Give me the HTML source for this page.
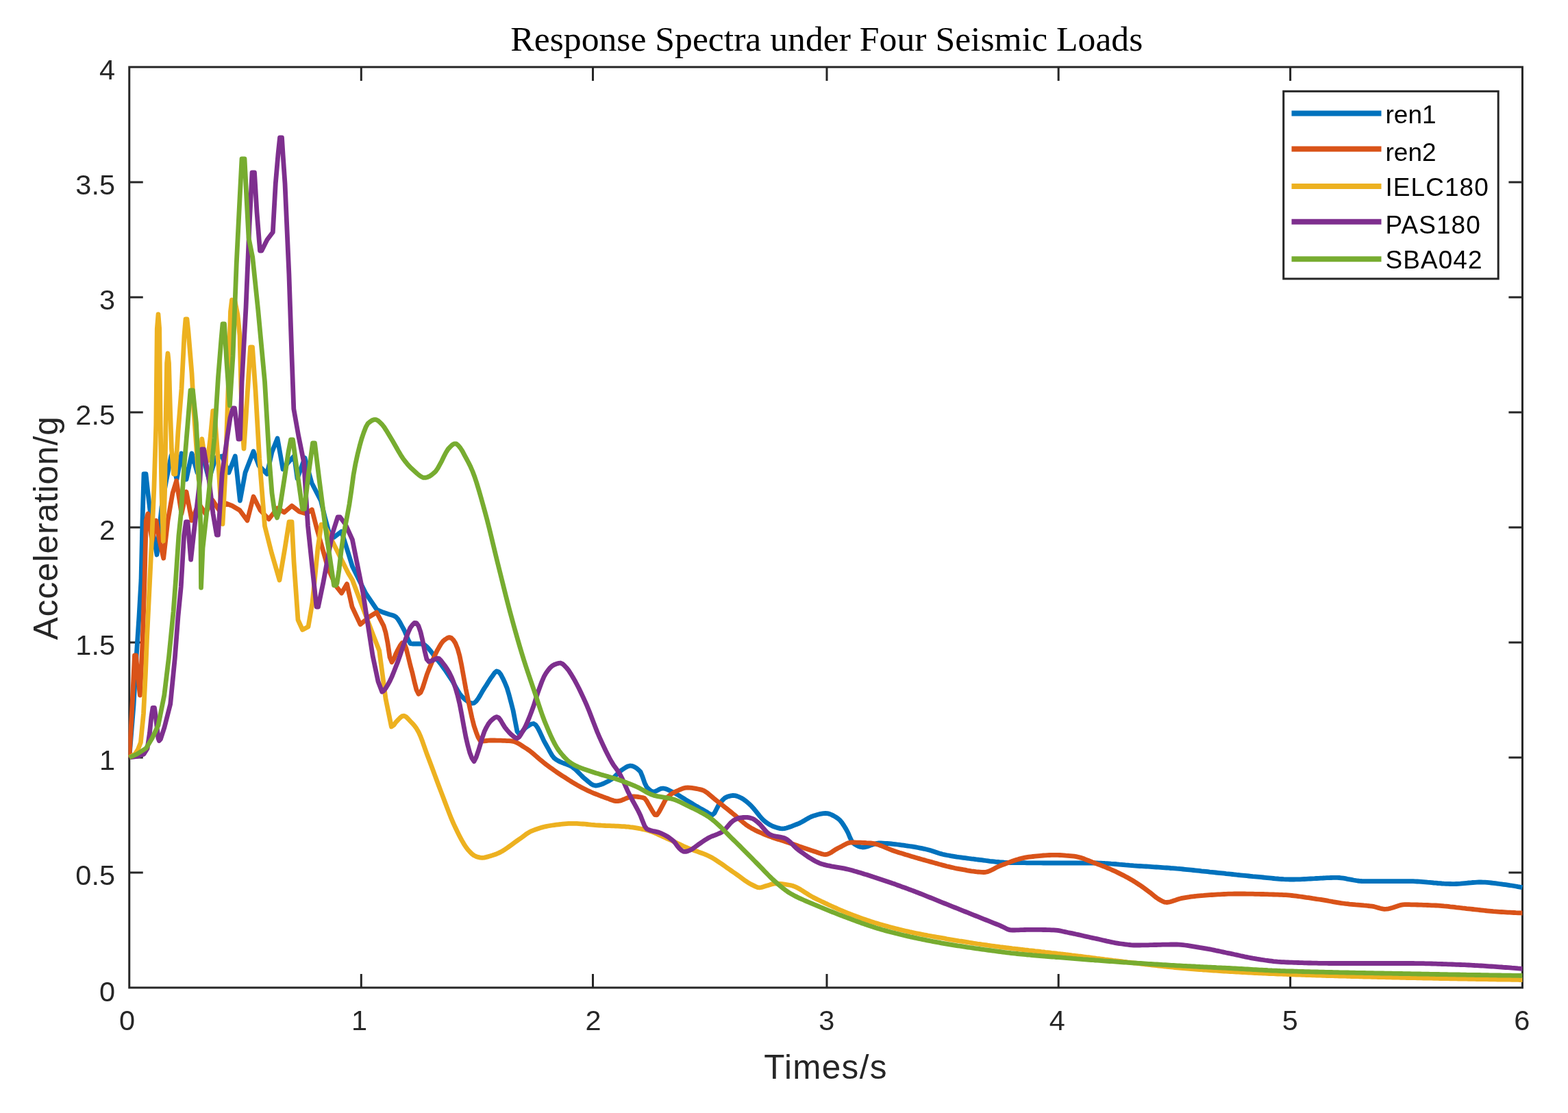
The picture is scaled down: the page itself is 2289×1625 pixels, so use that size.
<!DOCTYPE html>
<html lang="en"><head><meta charset="utf-8"><title>Response Spectra under Four Seismic Loads</title>
<style>html,body{margin:0;padding:0;background:#fff;}body{width:2289px;height:1625px;overflow:hidden;}svg{display:block;}</style>
</head><body>
<svg width="2289" height="1625" viewBox="0 0 2289 1625" role="img" aria-label="Response Spectra under Four Seismic Loads">
<rect width="2289" height="1625" fill="#ffffff"/>
<rect x="188.75" y="97.9" width="2033.7" height="1344.1" fill="none" stroke="#262626" stroke-width="3"/>
<path d="M527.3 1442.0v-20M527.3 97.9v20M865.5 1442.0v-20M865.5 97.9v20M1207.0 1442.0v-20M1207.0 97.9v20M1545.2 1442.0v-20M1545.2 97.9v20M1883.6 1442.0v-20M1883.6 97.9v20M188.75 1274.0h20M2222.4 1274.0h-20M188.75 1106.0h20M2222.4 1106.0h-20M188.75 938.0h20M2222.4 938.0h-20M188.75 770.0h20M2222.4 770.0h-20M188.75 601.9h20M2222.4 601.9h-20M188.75 433.9h20M2222.4 433.9h-20M188.75 265.9h20M2222.4 265.9h-20" stroke="#262626" stroke-width="3" fill="none"/>
<clipPath id="c"><rect x="187.25" y="96.40" width="2036.65" height="1347.10"/></clipPath>
<g clip-path="url(#c)" fill="none" stroke-linejoin="round" stroke-linecap="butt">
<path d="M188.8 1106.0L195.0 1030.0L199.0 960.0L203.0 900.0L206.0 847.0L208.0 760.0L210.0 692.0L213.0 692.0L216.0 720.0L222.0 770.0L229.0 810.0L236.0 740.0L243.0 700.0L250.0 665.0L258.0 700.0L265.0 662.0L272.0 700.0L280.0 662.0L288.0 690.0L296.0 665.0L305.0 700.0L315.0 668.0L324.0 666.0L334.0 690.0L343.3 666.0L350.4 731.0L358.0 690.0L370.0 659.0L378.0 680.0L389.8 692.0L397.0 660.0L405.0 640.0L413.0 685.0L421.0 675.0L429.5 665.6L434.0 698.5L445.0 668.5L455.0 705.0L468.4 731.0L475.0 758.0L483.0 787.7L498.6 776.0L514.4 827.0L534.0 866.4L550.0 890.0L560.0 894.3L563.0 895.3L566.0 896.3L569.0 897.2L572.0 898.0L575.0 899.0L578.0 900.7L581.0 904.1L584.0 908.9L587.0 914.5L590.0 920.0L593.0 926.9L596.0 934.6L599.0 939.6L602.0 940.0L605.0 940.0L608.0 940.0L611.0 940.0L614.0 940.0L617.0 940.3L620.0 941.7L623.0 944.1L626.0 947.3L629.0 951.0L632.0 954.9L635.0 959.0L638.0 962.8L641.0 966.4L644.0 970.3L647.0 974.4L650.0 978.6L653.0 983.0L656.0 987.5L659.0 992.1L662.0 997.1L665.0 1002.6L668.0 1008.0L671.0 1012.9L674.0 1016.6L677.0 1019.4L680.0 1022.1L683.0 1024.4L686.0 1026.1L689.0 1026.9L692.0 1026.5L695.0 1024.0L698.0 1020.0L701.0 1015.1L704.0 1009.8L707.0 1004.9L710.0 1000.4L713.0 995.5L716.0 990.8L719.0 986.7L722.0 982.4L725.0 979.9L728.0 980.9L731.0 984.7L734.0 990.3L737.0 996.7L740.0 1004.1L743.0 1014.0L746.0 1025.3L749.0 1037.0L752.0 1052.6L755.0 1068.0L758.0 1071.8L761.0 1069.6L764.0 1066.1L767.0 1062.8L770.0 1060.6L773.0 1058.6L776.0 1057.0L779.0 1056.5L782.0 1058.4L785.0 1062.7L788.0 1068.6L791.0 1075.2L794.0 1081.6L797.0 1087.0L800.0 1092.4L803.0 1097.9L806.0 1103.0L809.0 1106.8L812.0 1109.1L815.0 1110.9L818.0 1112.4L821.0 1113.6L824.0 1114.7L827.0 1115.8L830.0 1117.0L833.0 1118.4L836.0 1120.2L839.0 1122.5L842.0 1125.3L845.0 1128.4L848.0 1131.5L851.0 1134.5L854.0 1137.2L857.0 1139.6L860.0 1142.2L863.0 1144.6L866.0 1146.3L869.0 1147.0L872.0 1146.8L875.0 1146.1L878.0 1145.2L881.0 1144.0L884.0 1142.5L887.0 1141.0L890.0 1139.4L893.0 1137.6L896.0 1135.1L899.0 1132.1L902.0 1129.1L905.0 1126.2L908.0 1124.0L911.0 1122.0L914.0 1120.1L917.0 1118.7L920.0 1118.0L923.0 1118.4L926.0 1119.6L929.0 1121.4L932.0 1123.8L935.0 1126.9L938.0 1134.1L941.0 1142.9L944.0 1149.0L947.0 1152.2L950.0 1154.7L953.0 1155.9L956.0 1155.6L959.0 1154.4L962.0 1152.7L965.0 1151.4L968.0 1151.0L971.0 1151.5L974.0 1152.5L977.0 1154.0L980.0 1155.5L983.0 1157.0L986.0 1158.5L989.0 1160.2L992.0 1162.0L995.0 1163.8L998.0 1165.7L1001.0 1167.6L1004.0 1169.4L1007.0 1171.2L1010.0 1173.0L1013.0 1174.8L1016.0 1176.6L1019.0 1178.3L1022.0 1180.1L1025.0 1181.8L1028.0 1183.5L1031.0 1185.2L1034.0 1187.2L1037.0 1188.9L1040.0 1189.7L1043.0 1187.1L1046.0 1181.3L1049.0 1175.4L1052.0 1171.5L1055.0 1168.0L1058.0 1165.1L1061.0 1163.6L1064.0 1162.6L1067.0 1161.8L1070.0 1161.4L1073.0 1161.6L1076.0 1162.4L1079.0 1163.6L1082.0 1165.0L1085.0 1166.7L1088.0 1168.9L1091.0 1171.4L1094.0 1174.0L1097.0 1176.9L1100.0 1180.3L1103.0 1183.9L1106.0 1187.7L1109.0 1191.4L1112.0 1194.9L1115.0 1197.9L1118.0 1200.4L1121.0 1202.4L1124.0 1204.3L1127.0 1205.8L1130.0 1207.0L1133.0 1208.0L1136.0 1208.9L1139.0 1209.6L1142.0 1209.8L1145.0 1209.6L1148.0 1209.0L1151.0 1208.1L1154.0 1207.1L1157.0 1205.9L1160.0 1204.7L1163.0 1203.5L1166.0 1202.3L1169.0 1200.9L1172.0 1199.2L1175.0 1197.5L1178.0 1195.7L1181.0 1194.0L1184.0 1192.5L1187.0 1191.3L1190.0 1190.4L1193.0 1189.5L1196.0 1188.7L1199.0 1188.1L1202.0 1187.6L1205.0 1187.4L1208.0 1187.6L1211.0 1188.4L1214.0 1189.6L1217.0 1191.1L1220.0 1192.9L1223.0 1194.9L1226.0 1197.3L1229.0 1201.0L1232.0 1205.5L1235.0 1210.4L1238.0 1216.0L1241.0 1223.2L1244.0 1229.3L1247.0 1232.1L1250.0 1234.0L1253.0 1235.5L1256.0 1236.5L1259.0 1237.0L1262.0 1236.8L1265.0 1236.2L1268.0 1235.2L1271.0 1234.1L1274.0 1233.0L1277.0 1232.0L1280.0 1231.3L1283.0 1231.0L1286.0 1231.0L1289.0 1231.1L1292.0 1231.3L1295.0 1231.5L1298.0 1231.7L1301.0 1232.0L1304.0 1232.3L1307.0 1232.6L1310.0 1233.0L1313.0 1233.4L1316.0 1233.8L1319.0 1234.2L1322.0 1234.7L1325.0 1235.1L1328.0 1235.5L1331.0 1235.9L1334.0 1236.4L1337.0 1236.9L1340.0 1237.5L1343.0 1238.1L1346.0 1238.7L1349.0 1239.3L1352.0 1240.0L1355.0 1240.7L1358.0 1241.6L1361.0 1242.5L1364.0 1243.5L1367.0 1244.5L1370.0 1245.5L1373.0 1246.4L1376.0 1247.2L1379.0 1247.9L1382.0 1248.5L1385.0 1249.0L1388.0 1249.6L1391.0 1250.1L1394.0 1250.6L1397.0 1251.1L1400.0 1251.5L1403.0 1251.9L1406.0 1252.3L1409.0 1252.7L1412.0 1253.1L1415.0 1253.5L1418.0 1253.9L1421.0 1254.2L1424.0 1254.6L1427.0 1255.0L1430.0 1255.3L1433.0 1255.7L1436.0 1256.1L1439.0 1256.5L1442.0 1256.9L1445.0 1257.3L1448.0 1257.6L1451.0 1257.9L1454.0 1258.3L1457.0 1258.5L1460.0 1258.8L1463.0 1259.0L1466.0 1259.2L1469.0 1259.3L1472.0 1259.4L1475.0 1259.5L1478.0 1259.5L1481.0 1259.5L1484.0 1259.6L1487.0 1259.6L1490.0 1259.7L1493.0 1259.7L1496.0 1259.7L1499.0 1259.8L1502.0 1259.8L1505.0 1259.8L1508.0 1259.9L1511.0 1259.9L1514.0 1259.9L1517.0 1259.9L1520.0 1259.9L1523.0 1260.0L1526.0 1260.0L1529.0 1260.0L1532.0 1260.0L1535.0 1260.0L1538.0 1260.0L1541.0 1260.0L1544.0 1260.0L1547.0 1260.0L1550.0 1260.0L1553.0 1260.0L1556.0 1260.0L1559.0 1260.0L1562.0 1260.0L1565.0 1260.0L1568.0 1260.0L1571.0 1260.0L1574.0 1260.0L1577.0 1260.0L1580.0 1260.0L1583.0 1260.0L1586.0 1260.0L1589.0 1260.0L1592.0 1260.0L1595.0 1260.0L1598.0 1260.0L1601.0 1260.0L1604.0 1260.1L1607.0 1260.2L1610.0 1260.3L1613.0 1260.5L1616.0 1260.6L1619.0 1260.8L1622.0 1261.1L1625.0 1261.3L1628.0 1261.5L1631.0 1261.8L1634.0 1262.1L1637.0 1262.3L1640.0 1262.6L1643.0 1262.9L1646.0 1263.1L1649.0 1263.4L1652.0 1263.6L1655.0 1263.9L1658.0 1264.1L1661.0 1264.3L1664.0 1264.5L1667.0 1264.7L1670.0 1264.9L1673.0 1265.0L1676.0 1265.2L1679.0 1265.4L1682.0 1265.6L1685.0 1265.8L1688.0 1266.0L1691.0 1266.2L1694.0 1266.4L1697.0 1266.6L1700.0 1266.8L1703.0 1267.0L1706.0 1267.2L1709.0 1267.5L1712.0 1267.7L1715.0 1267.9L1718.0 1268.2L1721.0 1268.4L1724.0 1268.7L1727.0 1269.0L1730.0 1269.3L1733.0 1269.6L1736.0 1269.9L1739.0 1270.2L1742.0 1270.5L1745.0 1270.8L1748.0 1271.1L1751.0 1271.4L1754.0 1271.8L1757.0 1272.1L1760.0 1272.4L1763.0 1272.7L1766.0 1273.1L1769.0 1273.4L1772.0 1273.7L1775.0 1274.0L1778.0 1274.3L1781.0 1274.6L1784.0 1274.9L1787.0 1275.2L1790.0 1275.6L1793.0 1275.9L1796.0 1276.2L1799.0 1276.5L1802.0 1276.8L1805.0 1277.2L1808.0 1277.5L1811.0 1277.8L1814.0 1278.1L1817.0 1278.4L1820.0 1278.7L1823.0 1279.0L1826.0 1279.3L1829.0 1279.6L1832.0 1279.8L1835.0 1280.1L1838.0 1280.4L1841.0 1280.7L1844.0 1281.0L1847.0 1281.3L1850.0 1281.6L1853.0 1281.9L1856.0 1282.2L1859.0 1282.5L1862.0 1282.8L1865.0 1283.0L1868.0 1283.3L1871.0 1283.5L1874.0 1283.7L1877.0 1283.8L1880.0 1283.9L1883.0 1284.0L1886.0 1284.0L1889.0 1284.0L1892.0 1283.9L1895.0 1283.9L1898.0 1283.8L1901.0 1283.6L1904.0 1283.5L1907.0 1283.4L1910.0 1283.2L1913.0 1283.0L1916.0 1282.8L1919.0 1282.7L1922.0 1282.5L1925.0 1282.3L1928.0 1282.1L1931.0 1282.0L1934.0 1281.8L1937.0 1281.7L1940.0 1281.6L1943.0 1281.5L1946.0 1281.4L1949.0 1281.4L1952.0 1281.4L1955.0 1281.5L1958.0 1281.8L1961.0 1282.2L1964.0 1282.7L1967.0 1283.3L1970.0 1283.8L1973.0 1284.4L1976.0 1285.0L1979.0 1285.5L1982.0 1286.0L1985.0 1286.3L1988.0 1286.5L1991.0 1286.6L1994.0 1286.6L1997.0 1286.6L2000.0 1286.6L2003.0 1286.6L2006.0 1286.6L2009.0 1286.6L2012.0 1286.6L2015.0 1286.6L2018.0 1286.6L2021.0 1286.6L2024.0 1286.6L2027.0 1286.6L2030.0 1286.6L2033.0 1286.6L2036.0 1286.6L2039.0 1286.6L2042.0 1286.6L2045.0 1286.6L2048.0 1286.6L2051.0 1286.6L2054.0 1286.6L2057.0 1286.6L2060.0 1286.6L2063.0 1286.7L2066.0 1286.8L2069.0 1287.0L2072.0 1287.2L2075.0 1287.4L2078.0 1287.6L2081.0 1287.9L2084.0 1288.2L2087.0 1288.4L2090.0 1288.7L2093.0 1289.0L2096.0 1289.2L2099.0 1289.5L2102.0 1289.7L2105.0 1290.0L2108.0 1290.2L2111.0 1290.3L2114.0 1290.4L2117.0 1290.5L2120.0 1290.6L2123.0 1290.6L2126.0 1290.5L2129.0 1290.4L2132.0 1290.2L2135.0 1289.9L2138.0 1289.6L2141.0 1289.3L2144.0 1289.0L2147.0 1288.8L2150.0 1288.5L2153.0 1288.3L2156.0 1288.1L2159.0 1288.0L2162.0 1288.0L2165.0 1288.1L2168.0 1288.2L2171.0 1288.4L2174.0 1288.7L2177.0 1289.0L2180.0 1289.3L2183.0 1289.7L2186.0 1290.1L2189.0 1290.5L2192.0 1290.9L2195.0 1291.3L2198.0 1291.7L2201.0 1292.1L2204.0 1292.6L2207.0 1293.0L2210.0 1293.5L2213.0 1294.0L2216.0 1294.6L2219.0 1295.1L2222.0 1295.7L2222.4 1295.8" stroke="#0072BD" stroke-width="6.8"/>
<path d="M188.8 1106.0L193.0 1030.0L196.5 957.0L198.5 957.0L201.0 985.0L204.4 1015.0L208.0 940.0L211.0 849.0L213.2 760.0L216.0 750.0L222.0 790.0L228.0 760.0L233.0 790.0L238.7 815.0L245.0 760.0L252.0 720.0L257.6 702.0L265.0 750.0L272.0 718.0L280.0 760.0L290.0 735.0L300.0 750.0L310.0 730.0L320.0 745.0L330.0 735.0L339.0 738.5L350.0 745.0L361.0 760.0L370.0 725.0L380.0 745.0L392.4 758.0L405.0 742.0L415.0 748.0L426.0 738.5L437.0 747.0L447.0 750.0L455.4 744.0L462.0 770.0L479.0 830.0L490.0 855.0L498.6 866.0L506.5 852.6L514.0 886.0L526.0 911.6L540.0 900.0L549.8 894.0L560.0 913.6L563.0 923.4L566.0 938.8L569.0 959.4L572.0 966.8L575.0 962.0L578.0 954.3L581.0 948.3L584.0 942.8L587.0 938.7L590.0 939.0L593.0 946.9L596.0 959.0L599.0 971.5L602.0 982.6L605.0 995.7L608.0 1007.3L611.0 1013.2L614.0 1011.2L617.0 1004.4L620.0 995.0L623.0 985.4L626.0 977.6L629.0 970.4L632.0 963.2L635.0 956.3L638.0 950.2L641.0 944.8L644.0 939.8L647.0 935.9L650.0 933.5L653.0 931.6L656.0 930.6L659.0 931.6L662.0 934.7L665.0 939.4L668.0 946.9L671.0 957.6L674.0 972.3L677.0 989.0L680.0 1005.6L683.0 1020.2L686.0 1034.3L689.0 1048.0L692.0 1059.8L695.0 1068.7L698.0 1076.6L701.0 1081.6L704.0 1082.0L707.0 1081.8L710.0 1081.5L713.0 1081.2L716.0 1081.0L719.0 1081.0L722.0 1081.0L725.0 1081.1L728.0 1081.1L731.0 1081.2L734.0 1081.3L737.0 1081.4L740.0 1081.6L743.0 1081.7L746.0 1081.9L749.0 1082.3L752.0 1083.2L755.0 1084.6L758.0 1086.2L761.0 1088.1L764.0 1090.1L767.0 1092.0L770.0 1093.9L773.0 1096.1L776.0 1098.4L779.0 1100.9L782.0 1103.5L785.0 1106.1L788.0 1108.7L791.0 1111.2L794.0 1113.6L797.0 1116.0L800.0 1118.2L803.0 1120.4L806.0 1122.6L809.0 1124.7L812.0 1126.8L815.0 1128.8L818.0 1130.8L821.0 1132.8L824.0 1134.7L827.0 1136.7L830.0 1138.6L833.0 1140.5L836.0 1142.3L839.0 1144.1L842.0 1145.9L845.0 1147.6L848.0 1149.2L851.0 1150.8L854.0 1152.3L857.0 1153.8L860.0 1155.1L863.0 1156.5L866.0 1157.8L869.0 1159.0L872.0 1160.2L875.0 1161.4L878.0 1162.5L881.0 1163.6L884.0 1164.7L887.0 1165.7L890.0 1167.0L893.0 1168.1L896.0 1169.1L899.0 1169.7L902.0 1169.7L905.0 1169.2L908.0 1168.2L911.0 1167.0L914.0 1165.7L917.0 1164.5L920.0 1163.5L923.0 1163.0L926.0 1163.0L929.0 1163.2L932.0 1163.5L935.0 1164.0L938.0 1164.5L941.0 1165.5L944.0 1169.3L947.0 1174.8L950.0 1180.0L953.0 1185.1L956.0 1189.6L959.0 1189.9L962.0 1185.5L965.0 1180.0L968.0 1174.4L971.0 1168.5L974.0 1164.4L977.0 1161.7L980.0 1159.4L983.0 1157.5L986.0 1155.9L989.0 1154.5L992.0 1153.2L995.0 1151.9L998.0 1150.8L1001.0 1150.1L1004.0 1150.0L1007.0 1150.1L1010.0 1150.4L1013.0 1150.8L1016.0 1151.4L1019.0 1152.0L1022.0 1152.6L1025.0 1153.4L1028.0 1154.7L1031.0 1156.6L1034.0 1158.8L1037.0 1161.3L1040.0 1163.9L1043.0 1166.5L1046.0 1168.9L1049.0 1171.2L1052.0 1173.5L1055.0 1175.9L1058.0 1178.3L1061.0 1180.7L1064.0 1183.1L1067.0 1185.5L1070.0 1188.0L1073.0 1190.4L1076.0 1193.0L1079.0 1195.6L1082.0 1198.2L1085.0 1200.8L1088.0 1203.2L1091.0 1205.4L1094.0 1207.4L1097.0 1209.2L1100.0 1210.8L1103.0 1212.4L1106.0 1213.8L1109.0 1215.2L1112.0 1216.5L1115.0 1217.8L1118.0 1219.0L1121.0 1220.2L1124.0 1221.3L1127.0 1222.4L1130.0 1223.4L1133.0 1224.4L1136.0 1225.4L1139.0 1226.3L1142.0 1227.3L1145.0 1228.2L1148.0 1229.2L1151.0 1230.2L1154.0 1231.2L1157.0 1232.2L1160.0 1233.3L1163.0 1234.3L1166.0 1235.4L1169.0 1236.4L1172.0 1237.5L1175.0 1238.5L1178.0 1239.5L1181.0 1240.5L1184.0 1241.5L1187.0 1242.4L1190.0 1243.4L1193.0 1244.5L1196.0 1245.6L1199.0 1246.6L1202.0 1247.3L1205.0 1247.6L1208.0 1247.1L1211.0 1245.9L1214.0 1244.2L1217.0 1242.2L1220.0 1240.2L1223.0 1238.5L1226.0 1237.0L1229.0 1235.4L1232.0 1233.7L1235.0 1232.2L1238.0 1230.9L1241.0 1230.2L1244.0 1230.0L1247.0 1230.0L1250.0 1230.1L1253.0 1230.1L1256.0 1230.2L1259.0 1230.4L1262.0 1230.5L1265.0 1230.7L1268.0 1230.8L1271.0 1231.0L1274.0 1231.3L1277.0 1231.9L1280.0 1232.7L1283.0 1233.6L1286.0 1234.7L1289.0 1235.9L1292.0 1237.1L1295.0 1238.4L1298.0 1239.6L1301.0 1240.8L1304.0 1242.0L1307.0 1243.0L1310.0 1243.9L1313.0 1244.9L1316.0 1245.8L1319.0 1246.7L1322.0 1247.7L1325.0 1248.6L1328.0 1249.5L1331.0 1250.4L1334.0 1251.3L1337.0 1252.2L1340.0 1253.1L1343.0 1253.9L1346.0 1254.8L1349.0 1255.6L1352.0 1256.5L1355.0 1257.3L1358.0 1258.1L1361.0 1258.9L1364.0 1259.8L1367.0 1260.6L1370.0 1261.5L1373.0 1262.3L1376.0 1263.1L1379.0 1263.9L1382.0 1264.7L1385.0 1265.4L1388.0 1266.1L1391.0 1266.8L1394.0 1267.5L1397.0 1268.1L1400.0 1268.6L1403.0 1269.1L1406.0 1269.7L1409.0 1270.2L1412.0 1270.8L1415.0 1271.3L1418.0 1271.8L1421.0 1272.2L1424.0 1272.6L1427.0 1273.0L1430.0 1273.2L1433.0 1273.4L1436.0 1273.5L1439.0 1273.3L1442.0 1272.6L1445.0 1271.4L1448.0 1270.0L1451.0 1268.4L1454.0 1266.8L1457.0 1265.3L1460.0 1264.0L1463.0 1262.9L1466.0 1261.8L1469.0 1260.6L1472.0 1259.5L1475.0 1258.4L1478.0 1257.3L1481.0 1256.3L1484.0 1255.3L1487.0 1254.4L1490.0 1253.6L1493.0 1252.8L1496.0 1252.2L1499.0 1251.7L1502.0 1251.2L1505.0 1250.8L1508.0 1250.5L1511.0 1250.2L1514.0 1249.9L1517.0 1249.6L1520.0 1249.3L1523.0 1249.0L1526.0 1248.8L1529.0 1248.6L1532.0 1248.5L1535.0 1248.4L1538.0 1248.3L1541.0 1248.3L1544.0 1248.4L1547.0 1248.5L1550.0 1248.6L1553.0 1248.8L1556.0 1249.1L1559.0 1249.3L1562.0 1249.6L1565.0 1249.9L1568.0 1250.2L1571.0 1250.7L1574.0 1251.3L1577.0 1252.1L1580.0 1253.1L1583.0 1254.1L1586.0 1255.3L1589.0 1256.5L1592.0 1257.7L1595.0 1258.9L1598.0 1260.0L1601.0 1261.1L1604.0 1262.2L1607.0 1263.4L1610.0 1264.5L1613.0 1265.7L1616.0 1267.0L1619.0 1268.2L1622.0 1269.5L1625.0 1270.9L1628.0 1272.2L1631.0 1273.6L1634.0 1275.1L1637.0 1276.6L1640.0 1278.1L1643.0 1279.7L1646.0 1281.3L1649.0 1283.0L1652.0 1284.7L1655.0 1286.5L1658.0 1288.3L1661.0 1290.3L1664.0 1292.3L1667.0 1294.4L1670.0 1296.6L1673.0 1298.8L1676.0 1301.0L1679.0 1303.2L1682.0 1305.7L1685.0 1308.1L1688.0 1310.5L1691.0 1312.5L1694.0 1314.2L1697.0 1315.9L1700.0 1317.1L1703.0 1317.5L1706.0 1317.2L1709.0 1316.5L1712.0 1315.6L1715.0 1314.6L1718.0 1313.5L1721.0 1312.5L1724.0 1311.7L1727.0 1311.1L1730.0 1310.6L1733.0 1310.1L1736.0 1309.7L1739.0 1309.2L1742.0 1308.8L1745.0 1308.5L1748.0 1308.1L1751.0 1307.8L1754.0 1307.6L1757.0 1307.4L1760.0 1307.1L1763.0 1306.9L1766.0 1306.7L1769.0 1306.5L1772.0 1306.3L1775.0 1306.1L1778.0 1305.9L1781.0 1305.8L1784.0 1305.6L1787.0 1305.5L1790.0 1305.4L1793.0 1305.2L1796.0 1305.2L1799.0 1305.1L1802.0 1305.0L1805.0 1305.0L1808.0 1305.0L1811.0 1305.0L1814.0 1305.0L1817.0 1305.0L1820.0 1305.1L1823.0 1305.1L1826.0 1305.1L1829.0 1305.2L1832.0 1305.3L1835.0 1305.3L1838.0 1305.4L1841.0 1305.5L1844.0 1305.5L1847.0 1305.6L1850.0 1305.7L1853.0 1305.8L1856.0 1305.9L1859.0 1306.0L1862.0 1306.1L1865.0 1306.2L1868.0 1306.3L1871.0 1306.4L1874.0 1306.6L1877.0 1306.7L1880.0 1306.9L1883.0 1307.2L1886.0 1307.5L1889.0 1307.8L1892.0 1308.2L1895.0 1308.6L1898.0 1309.0L1901.0 1309.4L1904.0 1309.8L1907.0 1310.3L1910.0 1310.7L1913.0 1311.2L1916.0 1311.7L1919.0 1312.1L1922.0 1312.6L1925.0 1313.0L1928.0 1313.4L1931.0 1313.9L1934.0 1314.4L1937.0 1314.9L1940.0 1315.5L1943.0 1316.0L1946.0 1316.6L1949.0 1317.1L1952.0 1317.6L1955.0 1318.1L1958.0 1318.6L1961.0 1319.0L1964.0 1319.4L1967.0 1319.7L1970.0 1320.1L1973.0 1320.3L1976.0 1320.6L1979.0 1320.9L1982.0 1321.1L1985.0 1321.3L1988.0 1321.6L1991.0 1321.9L1994.0 1322.1L1997.0 1322.5L2000.0 1322.8L2003.0 1323.2L2006.0 1323.7L2009.0 1324.5L2012.0 1325.4L2015.0 1326.2L2018.0 1326.9L2021.0 1327.3L2024.0 1327.2L2027.0 1326.8L2030.0 1326.1L2033.0 1325.2L2036.0 1324.2L2039.0 1323.2L2042.0 1322.2L2045.0 1321.4L2048.0 1320.9L2051.0 1320.7L2054.0 1320.7L2057.0 1320.7L2060.0 1320.8L2063.0 1320.8L2066.0 1320.9L2069.0 1321.0L2072.0 1321.1L2075.0 1321.2L2078.0 1321.3L2081.0 1321.4L2084.0 1321.5L2087.0 1321.6L2090.0 1321.8L2093.0 1321.9L2096.0 1322.0L2099.0 1322.2L2102.0 1322.4L2105.0 1322.6L2108.0 1322.9L2111.0 1323.1L2114.0 1323.4L2117.0 1323.8L2120.0 1324.1L2123.0 1324.4L2126.0 1324.8L2129.0 1325.1L2132.0 1325.5L2135.0 1325.9L2138.0 1326.2L2141.0 1326.6L2144.0 1326.9L2147.0 1327.2L2150.0 1327.5L2153.0 1327.8L2156.0 1328.1L2159.0 1328.5L2162.0 1328.8L2165.0 1329.1L2168.0 1329.5L2171.0 1329.8L2174.0 1330.1L2177.0 1330.4L2180.0 1330.7L2183.0 1330.9L2186.0 1331.1L2189.0 1331.3L2192.0 1331.5L2195.0 1331.7L2198.0 1331.9L2201.0 1332.1L2204.0 1332.2L2207.0 1332.4L2210.0 1332.5L2213.0 1332.7L2216.0 1332.8L2219.0 1332.9L2222.0 1333.0L2222.4 1333.0" stroke="#D95319" stroke-width="6.8"/>
<path d="M188.8 1106.0L197.0 1101.0L201.5 1094.0L205.4 1084.0L209.5 1042.0L212.5 982.0L214.6 930.0L217.5 871.0L221.5 790.0L225.0 710.0L227.8 620.0L229.3 480.0L231.0 459.0L232.7 480.0L234.2 620.0L236.0 720.0L238.3 790.0L240.5 720.0L242.0 620.0L243.6 530.0L245.0 516.0L246.5 530.0L248.5 600.0L250.5 656.0L253.5 692.0L256.0 692.0L260.0 630.0L265.0 568.0L269.0 490.0L271.0 466.0L273.0 466.0L275.0 485.0L277.5 515.0L280.0 545.0L283.0 600.0L286.5 650.0L290.0 700.0L292.5 665.0L294.8 641.0L297.0 655.0L303.0 673.0L307.0 640.0L310.8 600.0L313.0 600.0L316.0 640.0L319.0 680.0L322.0 730.0L325.0 765.0L329.0 690.0L334.0 540.0L336.5 455.0L338.5 438.0L343.0 440.0L347.0 460.0L350.0 490.0L351.5 550.0L353.5 620.0L356.0 655.0L359.0 610.0L362.6 553.0L365.5 507.0L368.5 507.0L373.0 570.0L378.7 670.0L386.5 768.0L396.4 807.0L408.0 847.0L416.0 800.0L422.0 762.0L426.0 762.0L429.0 820.0L435.0 905.0L441.6 919.5L450.0 915.0L456.0 880.0L464.0 800.0L469.0 766.0L473.0 766.0L480.0 780.0L495.0 810.0L508.5 837.0L514.4 846.7L543.9 925.0L553.7 950.0L563.0 1020.0L571.4 1061.0L575.0 1058.4L578.0 1054.3L581.0 1051.1L584.0 1048.0L587.0 1045.6L590.0 1045.1L593.0 1046.8L596.0 1049.7L599.0 1053.0L602.0 1056.1L605.0 1059.5L608.0 1063.6L611.0 1068.7L614.0 1075.4L617.0 1083.3L620.0 1091.8L623.0 1100.3L626.0 1108.3L629.0 1116.3L632.0 1124.3L635.0 1132.4L638.0 1140.5L641.0 1148.5L644.0 1156.4L647.0 1164.2L650.0 1172.2L653.0 1180.1L656.0 1187.9L659.0 1195.4L662.0 1202.4L665.0 1208.8L668.0 1214.9L671.0 1220.9L674.0 1226.6L677.0 1231.8L680.0 1236.5L683.0 1240.5L686.0 1243.8L689.0 1246.7L692.0 1249.0L695.0 1250.4L698.0 1251.4L701.0 1252.1L704.0 1252.4L707.0 1252.1L710.0 1251.4L713.0 1250.6L716.0 1249.7L719.0 1248.8L722.0 1247.8L725.0 1246.7L728.0 1245.4L731.0 1243.9L734.0 1242.2L737.0 1240.3L740.0 1238.2L743.0 1236.1L746.0 1233.9L749.0 1231.7L752.0 1229.5L755.0 1227.4L758.0 1225.3L761.0 1223.2L764.0 1221.0L767.0 1218.7L770.0 1216.7L773.0 1214.8L776.0 1213.3L779.0 1212.1L782.0 1211.0L785.0 1210.0L788.0 1209.0L791.0 1208.1L794.0 1207.3L797.0 1206.6L800.0 1206.0L803.0 1205.5L806.0 1205.0L809.0 1204.6L812.0 1204.2L815.0 1203.8L818.0 1203.5L821.0 1203.1L824.0 1202.8L827.0 1202.6L830.0 1202.4L833.0 1202.3L836.0 1202.3L839.0 1202.3L842.0 1202.4L845.0 1202.6L848.0 1202.8L851.0 1203.0L854.0 1203.2L857.0 1203.5L860.0 1203.8L863.0 1204.1L866.0 1204.3L869.0 1204.6L872.0 1204.8L875.0 1205.0L878.0 1205.2L881.0 1205.3L884.0 1205.5L887.0 1205.6L890.0 1205.7L893.0 1205.8L896.0 1205.9L899.0 1206.1L902.0 1206.2L905.0 1206.4L908.0 1206.6L911.0 1206.7L914.0 1207.0L917.0 1207.2L920.0 1207.6L923.0 1207.9L926.0 1208.4L929.0 1208.9L932.0 1209.4L935.0 1210.0L938.0 1210.6L941.0 1211.3L944.0 1212.0L947.0 1212.8L950.0 1213.8L953.0 1214.9L956.0 1216.1L959.0 1217.4L962.0 1218.8L965.0 1220.2L968.0 1221.6L971.0 1222.9L974.0 1224.3L977.0 1225.6L980.0 1227.0L983.0 1228.4L986.0 1229.8L989.0 1231.3L992.0 1232.7L995.0 1234.1L998.0 1235.5L1001.0 1236.8L1004.0 1238.1L1007.0 1239.3L1010.0 1240.4L1013.0 1241.5L1016.0 1242.6L1019.0 1243.6L1022.0 1244.7L1025.0 1245.8L1028.0 1246.9L1031.0 1248.2L1034.0 1249.5L1037.0 1251.0L1040.0 1252.6L1043.0 1254.4L1046.0 1256.3L1049.0 1258.3L1052.0 1260.3L1055.0 1262.4L1058.0 1264.5L1061.0 1266.7L1064.0 1268.8L1067.0 1270.9L1070.0 1273.0L1073.0 1275.0L1076.0 1277.1L1079.0 1279.3L1082.0 1281.5L1085.0 1283.7L1088.0 1285.9L1091.0 1287.9L1094.0 1289.8L1097.0 1291.4L1100.0 1292.9L1103.0 1294.4L1106.0 1295.6L1109.0 1296.0L1112.0 1295.5L1115.0 1294.6L1118.0 1293.6L1121.0 1292.7L1124.0 1291.8L1127.0 1290.8L1130.0 1290.2L1133.0 1290.0L1136.0 1290.1L1139.0 1290.3L1142.0 1290.6L1145.0 1291.0L1148.0 1291.5L1151.0 1292.0L1154.0 1292.5L1157.0 1293.3L1160.0 1294.4L1163.0 1295.7L1166.0 1297.3L1169.0 1299.0L1172.0 1300.9L1175.0 1302.8L1178.0 1304.7L1181.0 1306.6L1184.0 1308.4L1187.0 1310.1L1190.0 1311.6L1193.0 1313.1L1196.0 1314.5L1199.0 1316.0L1202.0 1317.4L1205.0 1318.8L1208.0 1320.2L1211.0 1321.7L1214.0 1323.0L1217.0 1324.4L1220.0 1325.7L1223.0 1327.1L1226.0 1328.4L1229.0 1329.6L1232.0 1330.9L1235.0 1332.1L1238.0 1333.3L1241.0 1334.5L1244.0 1335.6L1247.0 1336.8L1250.0 1337.9L1253.0 1339.0L1256.0 1340.1L1259.0 1341.2L1262.0 1342.2L1265.0 1343.3L1268.0 1344.3L1271.0 1345.3L1274.0 1346.2L1277.0 1347.2L1280.0 1348.1L1283.0 1349.0L1286.0 1349.9L1289.0 1350.7L1292.0 1351.6L1295.0 1352.4L1298.0 1353.2L1301.0 1354.0L1304.0 1354.8L1307.0 1355.6L1310.0 1356.3L1313.0 1357.1L1316.0 1357.8L1319.0 1358.5L1322.0 1359.2L1325.0 1359.9L1328.0 1360.6L1331.0 1361.2L1334.0 1361.9L1337.0 1362.5L1340.0 1363.1L1343.0 1363.7L1346.0 1364.3L1349.0 1364.9L1352.0 1365.4L1355.0 1366.0L1358.0 1366.5L1361.0 1367.1L1364.0 1367.6L1367.0 1368.2L1370.0 1368.7L1373.0 1369.2L1376.0 1369.7L1379.0 1370.2L1382.0 1370.8L1385.0 1371.3L1388.0 1371.8L1391.0 1372.3L1394.0 1372.8L1397.0 1373.3L1400.0 1373.8L1403.0 1374.2L1406.0 1374.7L1409.0 1375.2L1412.0 1375.7L1415.0 1376.2L1418.0 1376.6L1421.0 1377.1L1424.0 1377.5L1427.0 1378.0L1430.0 1378.4L1433.0 1378.9L1436.0 1379.3L1439.0 1379.7L1442.0 1380.2L1445.0 1380.6L1448.0 1381.0L1451.0 1381.4L1454.0 1381.8L1457.0 1382.2L1460.0 1382.6L1463.0 1382.9L1466.0 1383.3L1469.0 1383.7L1472.0 1384.0L1475.0 1384.4L1478.0 1384.8L1481.0 1385.1L1484.0 1385.5L1487.0 1385.8L1490.0 1386.2L1493.0 1386.5L1496.0 1386.9L1499.0 1387.2L1502.0 1387.6L1505.0 1387.9L1508.0 1388.2L1511.0 1388.6L1514.0 1388.9L1517.0 1389.2L1520.0 1389.6L1523.0 1389.9L1526.0 1390.3L1529.0 1390.6L1532.0 1390.9L1535.0 1391.3L1538.0 1391.6L1541.0 1391.9L1544.0 1392.3L1547.0 1392.6L1550.0 1393.0L1553.0 1393.3L1556.0 1393.7L1559.0 1394.0L1562.0 1394.4L1565.0 1394.8L1568.0 1395.1L1571.0 1395.5L1574.0 1395.9L1577.0 1396.2L1580.0 1396.6L1583.0 1397.0L1586.0 1397.4L1589.0 1397.7L1592.0 1398.1L1595.0 1398.5L1598.0 1398.9L1601.0 1399.3L1604.0 1399.6L1607.0 1400.0L1610.0 1400.4L1613.0 1400.8L1616.0 1401.1L1619.0 1401.5L1622.0 1401.9L1625.0 1402.3L1628.0 1402.6L1631.0 1403.0L1634.0 1403.3L1637.0 1403.7L1640.0 1404.1L1643.0 1404.4L1646.0 1404.8L1649.0 1405.1L1652.0 1405.5L1655.0 1405.9L1658.0 1406.2L1661.0 1406.6L1664.0 1406.9L1667.0 1407.3L1670.0 1407.7L1673.0 1408.0L1676.0 1408.4L1679.0 1408.7L1682.0 1409.1L1685.0 1409.4L1688.0 1409.7L1691.0 1410.1L1694.0 1410.4L1697.0 1410.7L1700.0 1411.0L1703.0 1411.4L1706.0 1411.7L1709.0 1411.9L1712.0 1412.2L1715.0 1412.5L1718.0 1412.8L1721.0 1413.0L1724.0 1413.3L1727.0 1413.6L1730.0 1413.8L1733.0 1414.1L1736.0 1414.3L1739.0 1414.6L1742.0 1414.8L1745.0 1415.0L1748.0 1415.3L1751.0 1415.5L1754.0 1415.7L1757.0 1416.0L1760.0 1416.2L1763.0 1416.4L1766.0 1416.6L1769.0 1416.8L1772.0 1417.0L1775.0 1417.2L1778.0 1417.4L1781.0 1417.6L1784.0 1417.8L1787.0 1418.0L1790.0 1418.2L1793.0 1418.4L1796.0 1418.6L1799.0 1418.7L1802.0 1418.9L1805.0 1419.1L1808.0 1419.2L1811.0 1419.4L1814.0 1419.6L1817.0 1419.7L1820.0 1419.9L1823.0 1420.1L1826.0 1420.2L1829.0 1420.4L1832.0 1420.5L1835.0 1420.7L1838.0 1420.8L1841.0 1420.9L1844.0 1421.1L1847.0 1421.2L1850.0 1421.4L1853.0 1421.5L1856.0 1421.6L1859.0 1421.7L1862.0 1421.9L1865.0 1422.0L1868.0 1422.1L1871.0 1422.2L1874.0 1422.3L1877.0 1422.4L1880.0 1422.6L1883.0 1422.7L1886.0 1422.8L1889.0 1422.9L1892.0 1423.0L1895.0 1423.1L1898.0 1423.2L1901.0 1423.3L1904.0 1423.4L1907.0 1423.5L1910.0 1423.6L1913.0 1423.7L1916.0 1423.8L1919.0 1423.9L1922.0 1424.0L1925.0 1424.1L1928.0 1424.2L1931.0 1424.3L1934.0 1424.4L1937.0 1424.5L1940.0 1424.5L1943.0 1424.6L1946.0 1424.7L1949.0 1424.8L1952.0 1424.9L1955.0 1425.0L1958.0 1425.1L1961.0 1425.2L1964.0 1425.2L1967.0 1425.3L1970.0 1425.4L1973.0 1425.5L1976.0 1425.6L1979.0 1425.6L1982.0 1425.7L1985.0 1425.8L1988.0 1425.9L1991.0 1426.0L1994.0 1426.0L1997.0 1426.1L2000.0 1426.2L2003.0 1426.3L2006.0 1426.3L2009.0 1426.4L2012.0 1426.5L2015.0 1426.6L2018.0 1426.6L2021.0 1426.7L2024.0 1426.8L2027.0 1426.8L2030.0 1426.9L2033.0 1427.0L2036.0 1427.1L2039.0 1427.1L2042.0 1427.2L2045.0 1427.3L2048.0 1427.3L2051.0 1427.4L2054.0 1427.5L2057.0 1427.5L2060.0 1427.6L2063.0 1427.7L2066.0 1427.7L2069.0 1427.8L2072.0 1427.8L2075.0 1427.9L2078.0 1428.0L2081.0 1428.0L2084.0 1428.1L2087.0 1428.2L2090.0 1428.2L2093.0 1428.3L2096.0 1428.3L2099.0 1428.4L2102.0 1428.5L2105.0 1428.5L2108.0 1428.6L2111.0 1428.6L2114.0 1428.7L2117.0 1428.8L2120.0 1428.8L2123.0 1428.9L2126.0 1428.9L2129.0 1429.0L2132.0 1429.1L2135.0 1429.1L2138.0 1429.2L2141.0 1429.2L2144.0 1429.3L2147.0 1429.3L2150.0 1429.4L2153.0 1429.4L2156.0 1429.5L2159.0 1429.5L2162.0 1429.6L2165.0 1429.6L2168.0 1429.7L2171.0 1429.7L2174.0 1429.8L2177.0 1429.8L2180.0 1429.9L2183.0 1429.9L2186.0 1430.0L2189.0 1430.0L2192.0 1430.1L2195.0 1430.1L2198.0 1430.2L2201.0 1430.2L2204.0 1430.2L2207.0 1430.3L2210.0 1430.3L2213.0 1430.4L2216.0 1430.4L2219.0 1430.5L2222.0 1430.5L2222.4 1430.5" stroke="#EDB120" stroke-width="6.8"/>
<path d="M188.8 1106.0L200.0 1104.5L210.0 1101.0L215.0 1093.0L218.5 1070.0L221.0 1046.0L223.0 1033.5L225.5 1033.5L228.0 1052.0L231.0 1078.0L232.3 1081.5L234.5 1079.0L240.0 1062.0L248.7 1028.0L255.3 961.0L260.0 900.0L264.2 857.0L268.6 782.0L271.5 762.0L274.0 762.0L278.6 817.0L285.0 760.0L292.0 700.0L294.5 656.0L297.5 656.0L305.0 700.0L311.0 750.0L316.3 781.0L318.5 781.0L324.2 692.0L331.5 640.0L336.0 610.0L340.0 596.0L342.5 596.0L345.0 615.0L348.0 641.0L350.5 641.0L353.1 557.0L359.0 449.0L364.0 330.0L368.0 252.0L371.5 252.0L375.0 310.0L379.5 366.0L382.0 366.0L390.0 350.0L398.3 339.0L402.3 268.0L406.0 225.0L408.5 201.0L411.5 201.0L413.0 225.0L416.0 268.0L421.9 400.0L425.9 518.0L428.8 597.0L435.7 636.0L443.6 675.0L449.5 768.0L456.0 830.0L462.0 886.0L464.5 886.0L472.0 850.0L485.0 780.0L493.0 755.0L496.5 755.0L504.0 765.0L514.4 788.0L530.0 866.0L544.0 957.0L552.0 995.0L557.7 1010.0L560.0 1008.8L563.0 1004.9L566.0 1000.0L569.0 994.7L572.0 988.1L575.0 980.8L578.0 973.1L581.0 965.4L584.0 956.9L587.0 947.9L590.0 939.0L593.0 930.7L596.0 923.2L599.0 916.5L602.0 912.4L605.0 909.5L608.0 909.6L611.0 914.0L614.0 922.9L617.0 935.6L620.0 950.5L623.0 962.6L626.0 966.0L629.0 965.2L632.0 964.0L635.0 962.5L638.0 961.1L641.0 961.7L644.0 964.7L647.0 968.7L650.0 972.6L653.0 977.1L656.0 982.3L659.0 988.4L662.0 995.8L665.0 1004.8L668.0 1015.2L671.0 1027.7L674.0 1043.4L677.0 1060.1L680.0 1075.9L683.0 1088.7L686.0 1099.6L689.0 1107.2L692.0 1111.6L695.0 1106.0L698.0 1097.2L701.0 1087.5L704.0 1077.1L707.0 1068.3L710.0 1062.1L713.0 1056.9L716.0 1053.0L719.0 1050.2L722.0 1047.9L725.0 1046.7L728.0 1047.9L731.0 1051.9L734.0 1057.2L737.0 1061.9L740.0 1065.6L743.0 1069.1L746.0 1072.2L749.0 1074.7L752.0 1077.0L755.0 1078.0L758.0 1075.9L761.0 1071.3L764.0 1066.4L767.0 1060.6L770.0 1053.9L773.0 1046.6L776.0 1038.8L779.0 1030.5L782.0 1021.0L785.0 1011.6L788.0 1003.4L791.0 995.3L794.0 988.2L797.0 982.9L800.0 978.6L803.0 975.0L806.0 972.2L809.0 970.5L812.0 969.3L815.0 968.4L818.0 968.0L821.0 969.1L824.0 971.8L827.0 975.0L830.0 978.7L833.0 983.3L836.0 988.2L839.0 993.4L842.0 999.0L845.0 1004.8L848.0 1011.0L851.0 1017.4L854.0 1023.9L857.0 1030.7L860.0 1038.0L863.0 1045.7L866.0 1053.6L869.0 1061.4L872.0 1069.0L875.0 1076.0L878.0 1082.6L881.0 1089.1L884.0 1095.5L887.0 1101.5L890.0 1107.3L893.0 1112.6L896.0 1117.5L899.0 1121.6L902.0 1125.7L905.0 1130.4L908.0 1136.2L911.0 1142.8L914.0 1149.7L917.0 1156.3L920.0 1162.3L923.0 1168.0L926.0 1173.4L929.0 1178.9L932.0 1184.5L935.0 1190.7L938.0 1198.5L941.0 1205.9L944.0 1210.1L947.0 1211.5L950.0 1212.5L953.0 1213.3L956.0 1213.9L959.0 1214.6L962.0 1215.4L965.0 1216.6L968.0 1218.0L971.0 1219.5L974.0 1221.2L977.0 1223.2L980.0 1225.4L983.0 1227.8L986.0 1231.3L989.0 1235.5L992.0 1239.0L995.0 1241.6L998.0 1243.4L1001.0 1243.4L1004.0 1242.6L1007.0 1241.4L1010.0 1240.0L1013.0 1237.9L1016.0 1235.6L1019.0 1233.4L1022.0 1231.4L1025.0 1229.3L1028.0 1227.2L1031.0 1225.3L1034.0 1223.5L1037.0 1222.0L1040.0 1220.7L1043.0 1219.6L1046.0 1218.5L1049.0 1217.2L1052.0 1215.8L1055.0 1214.0L1058.0 1211.4L1061.0 1208.0L1064.0 1204.5L1067.0 1201.1L1070.0 1198.5L1073.0 1196.7L1076.0 1195.2L1079.0 1194.2L1082.0 1193.8L1085.0 1193.5L1088.0 1193.3L1091.0 1193.4L1094.0 1193.9L1097.0 1194.7L1100.0 1195.9L1103.0 1198.0L1106.0 1200.4L1109.0 1203.1L1112.0 1206.5L1115.0 1210.0L1118.0 1213.5L1121.0 1216.4L1124.0 1218.5L1127.0 1219.7L1130.0 1220.5L1133.0 1221.1L1136.0 1221.6L1139.0 1222.1L1142.0 1222.8L1145.0 1223.6L1148.0 1225.0L1151.0 1227.2L1154.0 1229.9L1157.0 1233.0L1160.0 1236.1L1163.0 1238.9L1166.0 1241.2L1169.0 1243.4L1172.0 1245.6L1175.0 1247.7L1178.0 1249.8L1181.0 1251.8L1184.0 1253.7L1187.0 1255.5L1190.0 1257.2L1193.0 1258.7L1196.0 1260.1L1199.0 1261.2L1202.0 1262.1L1205.0 1262.9L1208.0 1263.6L1211.0 1264.2L1214.0 1264.8L1217.0 1265.3L1220.0 1265.8L1223.0 1266.3L1226.0 1266.8L1229.0 1267.3L1232.0 1267.9L1235.0 1268.6L1238.0 1269.3L1241.0 1270.0L1244.0 1270.8L1247.0 1271.7L1250.0 1272.5L1253.0 1273.4L1256.0 1274.3L1259.0 1275.2L1262.0 1276.2L1265.0 1277.1L1268.0 1278.1L1271.0 1279.1L1274.0 1280.1L1277.0 1281.0L1280.0 1282.0L1283.0 1283.0L1286.0 1284.0L1289.0 1285.0L1292.0 1286.0L1295.0 1287.0L1298.0 1288.0L1301.0 1289.0L1304.0 1290.1L1307.0 1291.1L1310.0 1292.2L1313.0 1293.3L1316.0 1294.4L1319.0 1295.4L1322.0 1296.5L1325.0 1297.6L1328.0 1298.8L1331.0 1299.9L1334.0 1301.0L1337.0 1302.2L1340.0 1303.3L1343.0 1304.5L1346.0 1305.7L1349.0 1306.9L1352.0 1308.1L1355.0 1309.3L1358.0 1310.5L1361.0 1311.7L1364.0 1312.9L1367.0 1314.1L1370.0 1315.3L1373.0 1316.6L1376.0 1317.8L1379.0 1319.0L1382.0 1320.2L1385.0 1321.4L1388.0 1322.6L1391.0 1323.8L1394.0 1325.0L1397.0 1326.2L1400.0 1327.4L1403.0 1328.6L1406.0 1329.8L1409.0 1331.0L1412.0 1332.2L1415.0 1333.4L1418.0 1334.6L1421.0 1335.8L1424.0 1337.0L1427.0 1338.2L1430.0 1339.4L1433.0 1340.6L1436.0 1341.8L1439.0 1343.0L1442.0 1344.2L1445.0 1345.4L1448.0 1346.6L1451.0 1347.8L1454.0 1349.0L1457.0 1350.2L1460.0 1351.4L1463.0 1352.8L1466.0 1354.3L1469.0 1355.8L1472.0 1357.1L1475.0 1357.9L1478.0 1358.0L1481.0 1358.0L1484.0 1357.9L1487.0 1357.8L1490.0 1357.7L1493.0 1357.6L1496.0 1357.5L1499.0 1357.4L1502.0 1357.4L1505.0 1357.3L1508.0 1357.3L1511.0 1357.3L1514.0 1357.3L1517.0 1357.4L1520.0 1357.4L1523.0 1357.5L1526.0 1357.5L1529.0 1357.6L1532.0 1357.7L1535.0 1357.8L1538.0 1357.9L1541.0 1358.1L1544.0 1358.4L1547.0 1358.9L1550.0 1359.5L1553.0 1360.2L1556.0 1360.8L1559.0 1361.5L1562.0 1362.1L1565.0 1362.7L1568.0 1363.3L1571.0 1364.0L1574.0 1364.6L1577.0 1365.3L1580.0 1366.0L1583.0 1366.7L1586.0 1367.4L1589.0 1368.0L1592.0 1368.7L1595.0 1369.4L1598.0 1370.0L1601.0 1370.6L1604.0 1371.3L1607.0 1372.0L1610.0 1372.7L1613.0 1373.4L1616.0 1374.1L1619.0 1374.7L1622.0 1375.4L1625.0 1376.0L1628.0 1376.6L1631.0 1377.1L1634.0 1377.6L1637.0 1378.0L1640.0 1378.4L1643.0 1378.8L1646.0 1379.2L1649.0 1379.5L1652.0 1379.8L1655.0 1380.0L1658.0 1380.0L1661.0 1380.0L1664.0 1380.0L1667.0 1379.9L1670.0 1379.9L1673.0 1379.8L1676.0 1379.8L1679.0 1379.7L1682.0 1379.6L1685.0 1379.5L1688.0 1379.5L1691.0 1379.4L1694.0 1379.3L1697.0 1379.2L1700.0 1379.2L1703.0 1379.1L1706.0 1379.1L1709.0 1379.0L1712.0 1379.0L1715.0 1379.0L1718.0 1379.0L1721.0 1379.1L1724.0 1379.3L1727.0 1379.6L1730.0 1380.0L1733.0 1380.4L1736.0 1380.8L1739.0 1381.3L1742.0 1381.8L1745.0 1382.3L1748.0 1382.8L1751.0 1383.4L1754.0 1383.8L1757.0 1384.3L1760.0 1384.8L1763.0 1385.4L1766.0 1385.9L1769.0 1386.5L1772.0 1387.1L1775.0 1387.8L1778.0 1388.4L1781.0 1389.0L1784.0 1389.7L1787.0 1390.3L1790.0 1391.0L1793.0 1391.6L1796.0 1392.2L1799.0 1392.8L1802.0 1393.5L1805.0 1394.1L1808.0 1394.8L1811.0 1395.5L1814.0 1396.1L1817.0 1396.8L1820.0 1397.4L1823.0 1398.0L1826.0 1398.6L1829.0 1399.2L1832.0 1399.7L1835.0 1400.2L1838.0 1400.6L1841.0 1401.1L1844.0 1401.5L1847.0 1402.0L1850.0 1402.4L1853.0 1402.8L1856.0 1403.2L1859.0 1403.6L1862.0 1403.9L1865.0 1404.2L1868.0 1404.4L1871.0 1404.6L1874.0 1404.7L1877.0 1404.9L1880.0 1405.0L1883.0 1405.1L1886.0 1405.2L1889.0 1405.3L1892.0 1405.4L1895.0 1405.5L1898.0 1405.6L1901.0 1405.7L1904.0 1405.8L1907.0 1405.9L1910.0 1406.0L1913.0 1406.0L1916.0 1406.1L1919.0 1406.2L1922.0 1406.2L1925.0 1406.3L1928.0 1406.3L1931.0 1406.4L1934.0 1406.4L1937.0 1406.4L1940.0 1406.5L1943.0 1406.5L1946.0 1406.5L1949.0 1406.5L1952.0 1406.5L1955.0 1406.5L1958.0 1406.5L1961.0 1406.5L1964.0 1406.5L1967.0 1406.5L1970.0 1406.5L1973.0 1406.5L1976.0 1406.5L1979.0 1406.5L1982.0 1406.5L1985.0 1406.5L1988.0 1406.5L1991.0 1406.5L1994.0 1406.5L1997.0 1406.5L2000.0 1406.5L2003.0 1406.5L2006.0 1406.5L2009.0 1406.5L2012.0 1406.5L2015.0 1406.5L2018.0 1406.5L2021.0 1406.5L2024.0 1406.5L2027.0 1406.5L2030.0 1406.5L2033.0 1406.5L2036.0 1406.5L2039.0 1406.5L2042.0 1406.5L2045.0 1406.5L2048.0 1406.5L2051.0 1406.5L2054.0 1406.5L2057.0 1406.5L2060.0 1406.5L2063.0 1406.5L2066.0 1406.6L2069.0 1406.6L2072.0 1406.6L2075.0 1406.7L2078.0 1406.7L2081.0 1406.8L2084.0 1406.9L2087.0 1406.9L2090.0 1407.0L2093.0 1407.1L2096.0 1407.2L2099.0 1407.3L2102.0 1407.4L2105.0 1407.5L2108.0 1407.6L2111.0 1407.7L2114.0 1407.8L2117.0 1407.9L2120.0 1408.0L2123.0 1408.1L2126.0 1408.3L2129.0 1408.4L2132.0 1408.5L2135.0 1408.6L2138.0 1408.7L2141.0 1408.9L2144.0 1409.0L2147.0 1409.1L2150.0 1409.3L2153.0 1409.5L2156.0 1409.6L2159.0 1409.8L2162.0 1410.0L2165.0 1410.2L2168.0 1410.4L2171.0 1410.6L2174.0 1410.8L2177.0 1411.0L2180.0 1411.2L2183.0 1411.4L2186.0 1411.6L2189.0 1411.8L2192.0 1412.0L2195.0 1412.3L2198.0 1412.5L2201.0 1412.7L2204.0 1412.9L2207.0 1413.2L2210.0 1413.4L2213.0 1413.6L2216.0 1413.9L2219.0 1414.1L2222.0 1414.4L2222.4 1414.4" stroke="#7E2F8E" stroke-width="6.8"/>
<path d="M188.8 1106.0L200.0 1101.0L213.2 1092.5L222.0 1078.0L231.0 1059.0L239.8 1015.0L246.5 959.5L253.1 893.0L256.4 849.0L260.9 782.0L264.2 750.0L268.6 684.0L274.2 617.0L278.0 570.0L281.5 570.0L286.4 617.0L290.8 706.0L293.0 772.0L293.5 858.0L296.0 800.0L304.0 728.0L313.0 639.5L318.5 551.0L323.0 495.0L325.0 473.0L327.5 473.0L331.0 530.0L335.4 592.0L340.0 520.0L345.2 386.0L350.0 290.0L353.0 232.0L357.0 232.0L360.0 290.0L363.0 347.0L368.8 376.0L376.7 452.0L386.5 557.0L393.4 675.0L397.0 720.0L401.0 748.0L404.5 756.0L408.0 745.0L415.0 700.0L421.0 660.0L424.5 642.0L427.5 642.0L434.0 690.0L441.5 743.0L444.5 743.0L450.0 695.0L456.5 647.0L459.5 647.0L466.0 700.0L475.0 770.0L487.5 854.6L490.5 854.6L492.0 851.5L495.0 831.7L498.0 804.9L501.0 784.1L504.0 768.0L507.0 752.6L510.0 736.1L513.0 715.7L516.0 693.5L519.0 676.9L522.0 663.3L525.0 651.2L528.0 640.4L531.0 631.5L534.0 623.7L537.0 618.3L540.0 615.8L543.0 613.8L546.0 612.7L549.0 612.7L552.0 614.3L555.0 617.1L558.0 620.0L561.0 623.9L564.0 628.6L567.0 633.6L570.0 638.5L573.0 643.5L576.0 648.7L579.0 654.0L582.0 659.3L585.0 664.3L588.0 668.9L591.0 673.0L594.0 676.7L597.0 680.2L600.0 683.3L603.0 686.1L606.0 688.8L609.0 691.5L612.0 694.0L615.0 696.0L618.0 697.3L621.0 697.4L624.0 696.7L627.0 695.3L630.0 693.3L633.0 690.9L636.0 688.2L639.0 683.8L642.0 678.3L645.0 672.8L648.0 666.6L651.0 660.7L654.0 655.9L657.0 652.6L660.0 649.7L663.0 647.8L666.0 647.9L669.0 650.4L672.0 654.0L675.0 658.6L678.0 664.3L681.0 669.8L684.0 675.5L687.0 681.6L690.0 688.5L693.0 696.5L696.0 705.6L699.0 715.4L702.0 725.9L705.0 736.6L708.0 747.5L711.0 758.7L714.0 770.5L717.0 782.7L720.0 795.2L723.0 807.7L726.0 820.0L729.0 832.0L732.0 844.0L735.0 856.1L738.0 868.1L741.0 879.8L744.0 891.3L747.0 902.4L750.0 913.3L753.0 924.0L756.0 934.5L759.0 944.8L762.0 954.7L765.0 964.4L768.0 973.7L771.0 982.8L774.0 991.6L777.0 1000.4L780.0 1009.2L783.0 1018.2L786.0 1027.3L789.0 1036.3L792.0 1045.0L795.0 1053.0L798.0 1060.3L801.0 1067.3L804.0 1074.1L807.0 1080.5L810.0 1086.4L813.0 1091.6L816.0 1096.0L819.0 1099.9L822.0 1103.4L825.0 1106.7L828.0 1109.7L831.0 1112.3L834.0 1114.4L837.0 1116.2L840.0 1117.8L843.0 1119.2L846.0 1120.5L849.0 1121.6L852.0 1122.7L855.0 1123.7L858.0 1124.7L861.0 1125.7L864.0 1126.7L867.0 1127.7L870.0 1128.7L873.0 1129.6L876.0 1130.5L879.0 1131.4L882.0 1132.2L885.0 1133.1L888.0 1133.9L891.0 1134.8L894.0 1135.7L897.0 1136.6L900.0 1137.5L903.0 1138.5L906.0 1139.5L909.0 1140.6L912.0 1141.7L915.0 1142.8L918.0 1144.0L921.0 1145.2L924.0 1146.4L927.0 1147.7L930.0 1149.0L933.0 1150.4L936.0 1152.1L939.0 1153.8L942.0 1155.5L945.0 1157.2L948.0 1158.7L951.0 1160.1L954.0 1161.1L957.0 1161.9L960.0 1162.6L963.0 1163.1L966.0 1163.6L969.0 1164.1L972.0 1164.6L975.0 1165.2L978.0 1165.8L981.0 1166.5L984.0 1167.3L987.0 1168.4L990.0 1169.6L993.0 1171.0L996.0 1172.5L999.0 1174.0L1002.0 1175.5L1005.0 1177.0L1008.0 1178.4L1011.0 1179.8L1014.0 1181.3L1017.0 1182.8L1020.0 1184.3L1023.0 1185.9L1026.0 1187.5L1029.0 1189.2L1032.0 1191.1L1035.0 1193.0L1038.0 1195.1L1041.0 1197.5L1044.0 1200.0L1047.0 1202.7L1050.0 1205.5L1053.0 1208.4L1056.0 1211.4L1059.0 1214.5L1062.0 1217.5L1065.0 1220.6L1068.0 1223.6L1071.0 1226.5L1074.0 1229.4L1077.0 1232.4L1080.0 1235.3L1083.0 1238.3L1086.0 1241.3L1089.0 1244.3L1092.0 1247.4L1095.0 1250.4L1098.0 1253.4L1101.0 1256.5L1104.0 1259.5L1107.0 1262.5L1110.0 1265.6L1113.0 1268.7L1116.0 1271.8L1119.0 1274.9L1122.0 1278.0L1125.0 1281.0L1128.0 1283.9L1131.0 1286.6L1134.0 1289.3L1137.0 1291.9L1140.0 1294.4L1143.0 1296.8L1146.0 1299.2L1149.0 1301.3L1152.0 1303.3L1155.0 1305.1L1158.0 1306.8L1161.0 1308.4L1164.0 1309.9L1167.0 1311.3L1170.0 1312.7L1173.0 1314.0L1176.0 1315.3L1179.0 1316.6L1182.0 1317.8L1185.0 1319.1L1188.0 1320.4L1191.0 1321.6L1194.0 1322.9L1197.0 1324.2L1200.0 1325.4L1203.0 1326.7L1206.0 1327.9L1209.0 1329.1L1212.0 1330.3L1215.0 1331.5L1218.0 1332.7L1221.0 1333.9L1224.0 1335.1L1227.0 1336.2L1230.0 1337.3L1233.0 1338.5L1236.0 1339.6L1239.0 1340.7L1242.0 1341.8L1245.0 1343.0L1248.0 1344.1L1251.0 1345.2L1254.0 1346.3L1257.0 1347.4L1260.0 1348.4L1263.0 1349.5L1266.0 1350.5L1269.0 1351.6L1272.0 1352.6L1275.0 1353.5L1278.0 1354.5L1281.0 1355.4L1284.0 1356.3L1287.0 1357.2L1290.0 1358.0L1293.0 1358.9L1296.0 1359.7L1299.0 1360.5L1302.0 1361.3L1305.0 1362.0L1308.0 1362.8L1311.0 1363.5L1314.0 1364.3L1317.0 1365.0L1320.0 1365.7L1323.0 1366.4L1326.0 1367.1L1329.0 1367.8L1332.0 1368.4L1335.0 1369.1L1338.0 1369.7L1341.0 1370.4L1344.0 1371.0L1347.0 1371.6L1350.0 1372.2L1353.0 1372.8L1356.0 1373.4L1359.0 1374.0L1362.0 1374.6L1365.0 1375.1L1368.0 1375.7L1371.0 1376.2L1374.0 1376.8L1377.0 1377.3L1380.0 1377.8L1383.0 1378.3L1386.0 1378.8L1389.0 1379.3L1392.0 1379.8L1395.0 1380.3L1398.0 1380.8L1401.0 1381.2L1404.0 1381.7L1407.0 1382.2L1410.0 1382.6L1413.0 1383.1L1416.0 1383.5L1419.0 1383.9L1422.0 1384.4L1425.0 1384.8L1428.0 1385.2L1431.0 1385.7L1434.0 1386.1L1437.0 1386.5L1440.0 1386.9L1443.0 1387.3L1446.0 1387.7L1449.0 1388.1L1452.0 1388.5L1455.0 1388.9L1458.0 1389.3L1461.0 1389.7L1464.0 1390.1L1467.0 1390.5L1470.0 1390.9L1473.0 1391.2L1476.0 1391.6L1479.0 1391.9L1482.0 1392.2L1485.0 1392.5L1488.0 1392.8L1491.0 1393.1L1494.0 1393.4L1497.0 1393.7L1500.0 1394.0L1503.0 1394.2L1506.0 1394.5L1509.0 1394.8L1512.0 1395.0L1515.0 1395.3L1518.0 1395.5L1521.0 1395.8L1524.0 1396.0L1527.0 1396.3L1530.0 1396.5L1533.0 1396.8L1536.0 1397.0L1539.0 1397.2L1542.0 1397.5L1545.0 1397.7L1548.0 1397.9L1551.0 1398.2L1554.0 1398.4L1557.0 1398.7L1560.0 1398.9L1563.0 1399.1L1566.0 1399.4L1569.0 1399.6L1572.0 1399.9L1575.0 1400.1L1578.0 1400.3L1581.0 1400.6L1584.0 1400.8L1587.0 1401.0L1590.0 1401.3L1593.0 1401.5L1596.0 1401.7L1599.0 1402.0L1602.0 1402.2L1605.0 1402.4L1608.0 1402.6L1611.0 1402.9L1614.0 1403.1L1617.0 1403.3L1620.0 1403.5L1623.0 1403.7L1626.0 1403.9L1629.0 1404.1L1632.0 1404.4L1635.0 1404.6L1638.0 1404.8L1641.0 1405.0L1644.0 1405.2L1647.0 1405.4L1650.0 1405.6L1653.0 1405.8L1656.0 1406.0L1659.0 1406.2L1662.0 1406.4L1665.0 1406.5L1668.0 1406.7L1671.0 1406.9L1674.0 1407.1L1677.0 1407.3L1680.0 1407.5L1683.0 1407.7L1686.0 1407.9L1689.0 1408.0L1692.0 1408.2L1695.0 1408.4L1698.0 1408.6L1701.0 1408.7L1704.0 1408.9L1707.0 1409.1L1710.0 1409.3L1713.0 1409.4L1716.0 1409.6L1719.0 1409.8L1722.0 1409.9L1725.0 1410.1L1728.0 1410.3L1731.0 1410.4L1734.0 1410.6L1737.0 1410.7L1740.0 1410.9L1743.0 1411.0L1746.0 1411.2L1749.0 1411.3L1752.0 1411.5L1755.0 1411.6L1758.0 1411.8L1761.0 1411.9L1764.0 1412.1L1767.0 1412.2L1770.0 1412.4L1773.0 1412.5L1776.0 1412.7L1779.0 1412.8L1782.0 1412.9L1785.0 1413.1L1788.0 1413.2L1791.0 1413.4L1794.0 1413.5L1797.0 1413.7L1800.0 1413.9L1803.0 1414.0L1806.0 1414.2L1809.0 1414.4L1812.0 1414.5L1815.0 1414.7L1818.0 1414.9L1821.0 1415.0L1824.0 1415.2L1827.0 1415.4L1830.0 1415.6L1833.0 1415.7L1836.0 1415.9L1839.0 1416.1L1842.0 1416.2L1845.0 1416.4L1848.0 1416.5L1851.0 1416.7L1854.0 1416.8L1857.0 1417.0L1860.0 1417.1L1863.0 1417.2L1866.0 1417.3L1869.0 1417.5L1872.0 1417.6L1875.0 1417.7L1878.0 1417.8L1881.0 1417.9L1884.0 1418.0L1887.0 1418.0L1890.0 1418.1L1893.0 1418.2L1896.0 1418.3L1899.0 1418.4L1902.0 1418.5L1905.0 1418.6L1908.0 1418.6L1911.0 1418.7L1914.0 1418.8L1917.0 1418.9L1920.0 1419.0L1923.0 1419.0L1926.0 1419.1L1929.0 1419.2L1932.0 1419.2L1935.0 1419.3L1938.0 1419.4L1941.0 1419.5L1944.0 1419.5L1947.0 1419.6L1950.0 1419.7L1953.0 1419.7L1956.0 1419.8L1959.0 1419.8L1962.0 1419.9L1965.0 1420.0L1968.0 1420.0L1971.0 1420.1L1974.0 1420.2L1977.0 1420.2L1980.0 1420.3L1983.0 1420.3L1986.0 1420.4L1989.0 1420.4L1992.0 1420.5L1995.0 1420.6L1998.0 1420.6L2001.0 1420.7L2004.0 1420.7L2007.0 1420.8L2010.0 1420.8L2013.0 1420.9L2016.0 1421.0L2019.0 1421.0L2022.0 1421.1L2025.0 1421.1L2028.0 1421.2L2031.0 1421.2L2034.0 1421.3L2037.0 1421.3L2040.0 1421.4L2043.0 1421.5L2046.0 1421.5L2049.0 1421.6L2052.0 1421.6L2055.0 1421.7L2058.0 1421.7L2061.0 1421.8L2064.0 1421.9L2067.0 1421.9L2070.0 1422.0L2073.0 1422.0L2076.0 1422.1L2079.0 1422.1L2082.0 1422.2L2085.0 1422.2L2088.0 1422.3L2091.0 1422.4L2094.0 1422.4L2097.0 1422.5L2100.0 1422.5L2103.0 1422.6L2106.0 1422.6L2109.0 1422.7L2112.0 1422.7L2115.0 1422.8L2118.0 1422.8L2121.0 1422.9L2124.0 1422.9L2127.0 1423.0L2130.0 1423.0L2133.0 1423.1L2136.0 1423.1L2139.0 1423.2L2142.0 1423.3L2145.0 1423.3L2148.0 1423.4L2151.0 1423.4L2154.0 1423.5L2157.0 1423.5L2160.0 1423.5L2163.0 1423.6L2166.0 1423.6L2169.0 1423.7L2172.0 1423.7L2175.0 1423.8L2178.0 1423.8L2181.0 1423.9L2184.0 1423.9L2187.0 1424.0L2190.0 1424.0L2193.0 1424.1L2196.0 1424.1L2199.0 1424.2L2202.0 1424.2L2205.0 1424.2L2208.0 1424.3L2211.0 1424.3L2214.0 1424.4L2217.0 1424.4L2220.0 1424.5L2222.4 1424.5" stroke="#77AC30" stroke-width="6.8"/>
</g>
<g font-family="'Liberation Sans', sans-serif" font-size="41.5" fill="#262626">
<text x="185.5" y="1504" text-anchor="middle">0</text>
<text x="524.6" y="1504" text-anchor="middle">1</text>
<text x="866.0" y="1504" text-anchor="middle">2</text>
<text x="1206.7" y="1504" text-anchor="middle">3</text>
<text x="1543.4" y="1504" text-anchor="middle">4</text>
<text x="1883.4" y="1504" text-anchor="middle">5</text>
<text x="2221.8" y="1504" text-anchor="middle">6</text>
<text x="168" y="1461.8" text-anchor="end">0</text>
<text x="168" y="1292.0" text-anchor="end">0.5</text>
<text x="168" y="1124.0" text-anchor="end">1</text>
<text x="168" y="956.0" text-anchor="end">1.5</text>
<text x="168" y="788.0" text-anchor="end">2</text>
<text x="168" y="619.9" text-anchor="end">2.5</text>
<text x="168" y="451.9" text-anchor="end">3</text>
<text x="168" y="283.9" text-anchor="end">3.5</text>
<text x="168" y="115.9" text-anchor="end">4</text>
</g>
<text x="1205.5" y="1574.5" text-anchor="middle" letter-spacing="1.3" font-family="'Liberation Sans', sans-serif" font-size="49.5" fill="#262626">Times/s</text>
<text transform="translate(83.5 770.8) rotate(-90)" text-anchor="middle" letter-spacing="0.95" font-family="'Liberation Sans', sans-serif" font-size="49.5" fill="#262626">Acceleration/g</text>
<text x="1206.8" y="73.5" text-anchor="middle" font-family="'Liberation Serif', serif" font-size="51.7" fill="#000000">Response Spectra under Four Seismic Loads</text>
<rect x="1873.7" y="133.3" width="313.5" height="273.7" fill="#ffffff" stroke="#262626" stroke-width="3"/>
<g font-family="'Liberation Sans', sans-serif" font-size="37" fill="#000000">
<path d="M1885.5 165.6H2016.5" stroke="#0072BD" stroke-width="8.0" fill="none"/>
<text x="2022.5" y="180.0">ren1</text>
<path d="M1885.5 217.4H2016.5" stroke="#D95319" stroke-width="8.0" fill="none"/>
<text x="2022.5" y="234.5">ren2</text>
<path d="M1885.5 272.0H2016.5" stroke="#EDB120" stroke-width="8.0" fill="none"/>
<text x="2022.5" y="286.2" letter-spacing="1.05">IELC180</text>
<path d="M1885.5 323.8H2016.5" stroke="#7E2F8E" stroke-width="8.0" fill="none"/>
<text x="2022.5" y="340.7" letter-spacing="1.05">PAS180</text>
<path d="M1885.5 378.2H2016.5" stroke="#77AC30" stroke-width="8.0" fill="none"/>
<text x="2022.5" y="392.4" letter-spacing="1.05">SBA042</text>
</g>
</svg>
</body></html>
